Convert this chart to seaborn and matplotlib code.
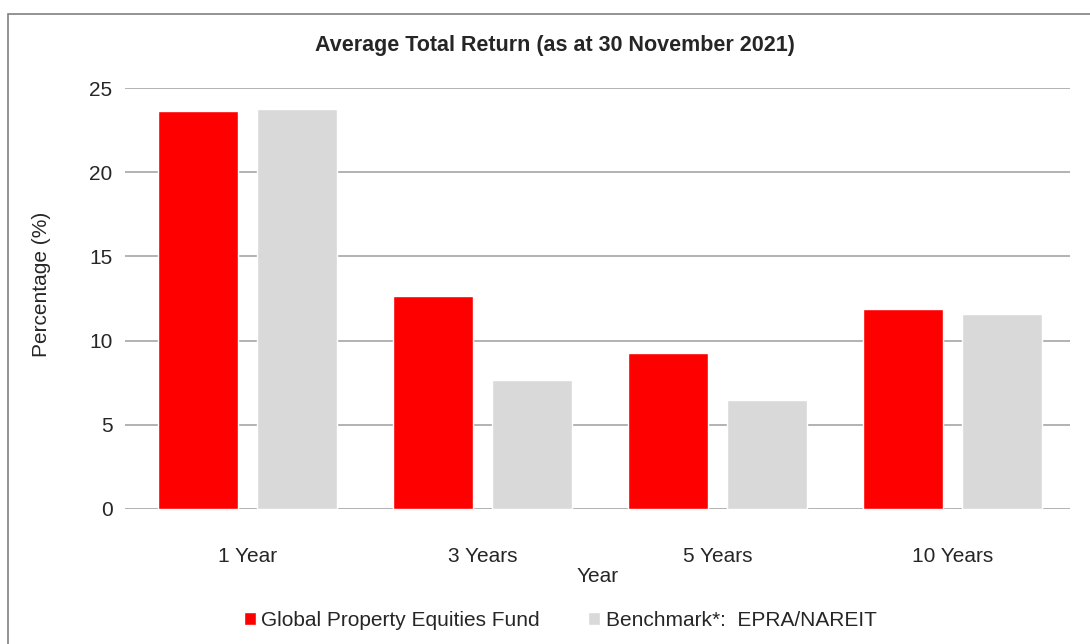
import matplotlib
matplotlib.use("Agg")
import matplotlib.pyplot as plt
import seaborn as sns
import pandas as pd
from matplotlib.patches import Rectangle

# data
periods = ["1 Year", "3 Years", "5 Years", "10 Years"]
fund = [23.65, 12.65, 9.25, 11.85]
benchmark = [23.75, 7.65, 6.5, 11.6]
series_names = ["Global Property Equities Fund", "Benchmark*:  EPRA/NAREIT"]

df = pd.DataFrame({
    "Year": periods * 2,
    "Value": fund + benchmark,
    "Series": [series_names[0]] * 4 + [series_names[1]] * 4,
})

sns.set_style("white")
plt.rcParams["font.family"] = ["Liberation Sans", "DejaVu Sans"]

W, H = 1090, 644
fig = plt.figure(figsize=(W / 100, H / 100), dpi=100)
ax = fig.add_axes([125 / W, 1 - 509 / H, 945 / W, 421 / H])

sns.barplot(data=df, x="Year", y="Value", hue="Series",
            palette=["#ff0000", "#d9d9d9"], width=0.84, gap=0.19,
            saturation=1, ax=ax, legend=True, zorder=3)

ax.set_ylim(0, 25)
ax.set_xlim(-0.52, 3.5)
ax.set_yticks([0, 5, 10, 15, 20, 25])
ax.yaxis.grid(True, color="#a6a6a6", linewidth=1.2, zorder=0)
ax.set_axisbelow(True)
for s in ax.spines.values():
    s.set_visible(False)
ax.tick_params(axis="y", length=0, pad=9, labelsize=15)
ax.tick_params(axis="x", length=0, pad=27, labelsize=15)
ax.set_xlabel("Year", fontsize=15, labelpad=1)
ax.set_ylabel("")
fig.text(42 / W, 1 - 284 / H, "Percentage (%)", rotation=90,
         ha="center", va="center", fontsize=15)

fig.text(555 / W, 1 - 45 / H, "Average Total Return (as at 30 November 2021)",
         ha="center", va="center", fontsize=15.5, fontweight="bold")

handles, labels = ax.get_legend_handles_labels()
ax.get_legend().remove()
fig.legend(handles, labels, loc="center", bbox_to_anchor=(560 / W, 1 - 620 / H),
           ncol=2, frameon=False, fontsize=15, handlelength=0.6,
           handleheight=0.6, handletextpad=0.25, columnspacing=2.3)

# outer chart border (right and bottom run off the image)
fig.patches.append(Rectangle((8 / W, -0.05), 1.0, 1 - 14 / H + 0.05,
                             transform=fig.transFigure, fill=False,
                             edgecolor="#808080", linewidth=1.2))

fig.savefig("out.png", dpi=100)
